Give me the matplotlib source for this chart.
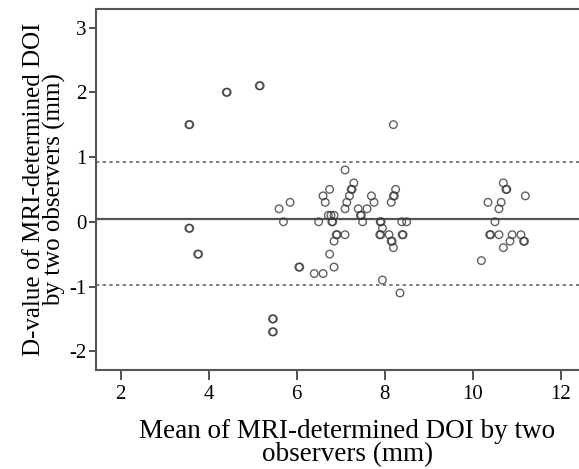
import matplotlib
matplotlib.use('Agg')
import matplotlib.pyplot as plt

# mean of two observers (mm) and difference (mm); near-duplicate pairs draw darker
mean_mm = [3.55, 3.57, 4.40, 4.42, 5.15, 5.17, 3.55, 3.57, 3.75, 3.77,
           5.45, 5.47, 5.45, 5.47, 6.05, 6.07,
           5.60, 5.70, 5.85, 6.50, 6.60, 6.65, 6.75, 6.72, 6.78, 6.85,
           6.80, 6.82, 6.90, 6.92, 7.10, 6.85, 6.75, 6.85, 6.40, 6.60,
           7.10, 7.30, 7.24, 7.26, 7.20, 7.14, 7.10, 7.40, 7.45, 7.47,
           7.50, 7.60, 7.70, 7.76, 7.90, 7.92, 7.95, 7.89, 7.91, 8.10,
           8.15, 8.17, 8.20, 7.95, 8.35, 8.25, 8.20, 8.22, 8.15, 8.39,
           8.50, 8.40, 8.42, 8.20,
           10.70, 10.76, 10.78, 11.20, 10.35, 10.65, 10.60, 10.51, 10.39, 10.41,
           10.60, 10.90, 11.10, 10.85, 11.16, 11.18, 10.70, 10.20]
diff_mm = [1.5, 1.5, 2.0, 2.0, 2.1, 2.1, -0.1, -0.1, -0.5, -0.5,
           -1.5, -1.5, -1.7, -1.7, -0.7, -0.7,
           0.2, 0.0, 0.3, 0.0, 0.4, 0.3, 0.5, 0.1, 0.1, 0.1,
           0.0, 0.0, -0.2, -0.2, -0.2, -0.3, -0.5, -0.7, -0.8, -0.8,
           0.8, 0.6, 0.5, 0.5, 0.4, 0.3, 0.2, 0.2, 0.1, 0.1,
           0.0, 0.2, 0.4, 0.3, 0.0, 0.0, -0.1, -0.2, -0.2, -0.2,
           -0.3, -0.3, -0.4, -0.9, -1.1, 0.5, 0.4, 0.4, 0.3, 0.0,
           0.0, -0.2, -0.2, 1.5,
           0.6, 0.5, 0.5, 0.4, 0.3, 0.3, 0.2, 0.0, -0.2, -0.2,
           -0.2, -0.2, -0.2, -0.3, -0.3, -0.3, -0.4, -0.6]

mean_diff = 0.05
upper_loa = 0.93
lower_loa = -0.98

x_ticks = [2, 4, 6, 8, 10, 12]
y_ticks = [-2, -1, 0, 1, 2, 3]

plt.rcParams['font.family'] = ['Liberation Serif', 'DejaVu Serif']
plt.rcParams['axes.unicode_minus'] = False   # hyphen minus like the original

fig = plt.figure(figsize=(5.79, 4.69), dpi=100)
ax = fig.add_axes([0.166, 0.211, 0.834, 0.769])

ax.scatter(mean_mm, diff_mm, s=30, facecolors='none', edgecolors='#3a3a3a',
           linewidths=1.0, alpha=0.8, zorder=3)

# mean difference and limits of agreement
ax.axhline(mean_diff, color='#555555', linewidth=1.6, zorder=2)
ax.axhline(upper_loa, color='#666666', linewidth=1.2, linestyle=(0, (2, 2)), zorder=2)
ax.axhline(lower_loa, color='#666666', linewidth=1.2, linestyle=(0, (2, 2)), zorder=2)

ax.set_xlim(1.44, 12.42)
ax.set_ylim(-2.29, 3.28)
ax.set_xticks(x_ticks)
ax.set_yticks(y_ticks)

for side in ['left', 'bottom', 'top']:
    ax.spines[side].set_color('#555555')
    ax.spines[side].set_linewidth(1.5)
ax.spines['right'].set_visible(False)

ax.tick_params(axis='x', direction='out', length=7, width=1.2, colors='#333333',
               labelsize=15, labelcolor='black', pad=4)
ax.tick_params(axis='y', direction='out', length=5, width=1.2, colors='#333333',
               labelsize=15, labelcolor='black', pad=2)

ax.set_xlabel('Mean of MRI-determined DOI by two\nobservers (mm)', fontsize=19.5,
              linespacing=0.9)
ax.xaxis.set_label_coords(0.52, -0.135)
ax.set_ylabel('D-value of MRI-determined DOI\nby two observers (mm)', fontsize=18,
              linespacing=0.9, labelpad=2)

fig.savefig('out.png', dpi=100)
